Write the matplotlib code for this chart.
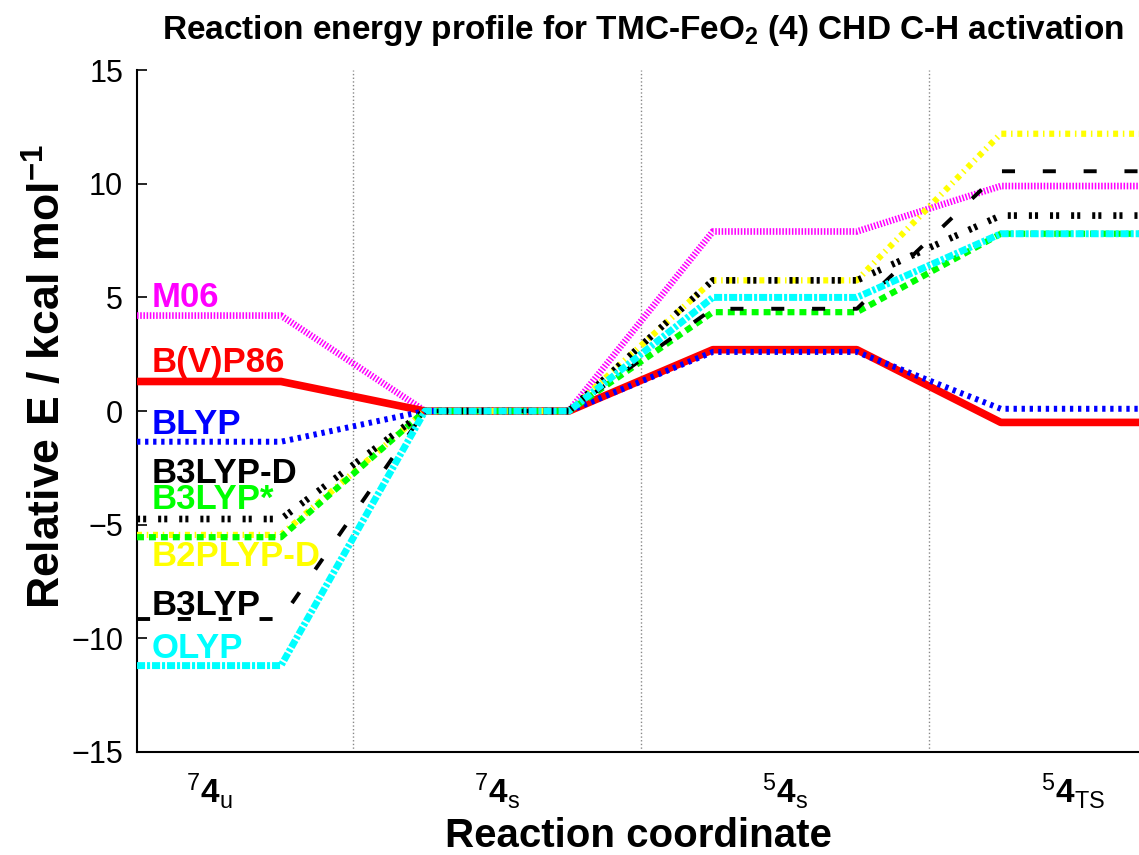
import matplotlib
matplotlib.use("Agg")
import matplotlib.pyplot as plt
import matplotlib.transforms as mtransforms
import numpy as np

plt.rcParams['font.family'] = ['Liberation Sans', 'DejaVu Sans']
plt.rcParams['mathtext.fontset'] = 'custom'
plt.rcParams['mathtext.rm'] = 'Liberation Sans'
plt.rcParams['mathtext.bf'] = 'Liberation Sans:bold'
plt.rcParams['mathtext.it'] = 'Liberation Sans:italic'
plt.rcParams['lines.scale_dashes'] = False

# states along the reaction coordinate
states = [r"$^{7}\mathbf{4}_{\mathrm{u}}$", r"$^{7}\mathbf{4}_{\mathrm{s}}$",
          r"$^{5}\mathbf{4}_{\mathrm{s}}$", r"$^{5}\mathbf{4}_{\mathrm{TS}}$"]

# relative energies (kcal/mol), one value per state
functionals = ["M06", "B(V)P86", "BLYP", "B2PLYP-D", "B3LYP*", "B3LYP-D", "B3LYP", "OLYP"]
e_m06     = [4.2, 0.0, 7.9, 9.9]
e_bvp86   = [1.3, 0.0, 2.7, -0.5]
e_blyp    = [-1.35, 0.0, 2.6, 0.1]
e_b2plypd = [-5.45, 0.0, 5.75, 12.2]
e_b3lyps  = [-5.55, 0.0, 4.35, 7.8]
e_b3lypd  = [-4.75, 0.0, 5.75, 8.6]
e_b3lyp   = [-9.15, 0.0, 4.5, 10.55]
e_olyp    = [-11.2, 0.0, 5.0, 7.8]
energies = [e_m06, e_bvp86, e_blyp, e_b2plypd, e_b3lyps, e_b3lypd, e_b3lyp, e_olyp]

# label heights on the left side
label_y = [5.0, 2.15, -0.6, -6.4, -3.9, -2.75, -8.55, -10.45]

styles = {
    "M06":      dict(color="#ff00ff", lw=4.8, dashes=(1.1, 1.2)),
    "B(V)P86":  dict(color="#ff0000", lw=5.5, ls="-"),
    "BLYP":     dict(color="#0000ff", lw=4.3, dashes=(2.4, 3.4)),
    "B2PLYP-D": dict(color="#ffff00", lw=4.5, dashes=(3.6, 3.4, 1.1, 3.4)),
    "B3LYP*":   dict(color="#00ff00", lw=4.5, dashes=(5.0, 3.6)),
    "B3LYP-D":  dict(color="#000000", lw=4.8, dashes=(2.2, 2.2, 2.2, 8.6)),
    "B3LYP":    dict(color="#000000", lw=2.8, dashes=(9.4, 20.0)),
    "OLYP":     dict(color="#00ffff", lw=5.0, dashes=(5.8, 1.4, 2.2, 1.4)),
}

half = 0.25  # half width of each plateau
idx = np.arange(len(states))

fig = plt.figure(figsize=(11.39, 8.55), dpi=100)
ax = fig.add_axes([0.1203, 0.1205, 0.8797, 0.7975])

for x in idx[:-1] + 0.5:
    ax.axvline(x, color="#888888", ls=":", lw=1.0, zorder=1)

xs = np.column_stack([idx - half, idx + half]).ravel()
for name, e in zip(functionals, energies):
    ys = np.repeat(e, 2)
    st = styles[name]
    ax.plot(xs, ys, solid_capstyle="butt", dash_capstyle="butt", zorder=3, **st)

trans = mtransforms.blended_transform_factory(ax.transAxes, ax.transData)
for name, yl in zip(functionals, label_y):
    ax.text(0.015, yl, name, transform=trans, ha="left", va="center",
            fontsize=25, fontweight="bold", color=styles[name]["color"], zorder=4)

ax.set_xlim(-0.25, 3.23)
ax.set_ylim(-15, 15)
ax.set_yticks(np.arange(-15, 16, 5))
ax.set_xticks(idx)
ax.set_xticklabels(states, fontsize=24)
ax.tick_params(axis="x", length=0, pad=14)
ax.tick_params(axis="y", direction="in", length=7, width=1.2, labelsize=22, pad=10)

for s in ["top", "right"]:
    ax.spines[s].set_visible(False)
for s in ["left", "bottom"]:
    ax.spines[s].set_linewidth(1.5)

ax.set_xlabel("Reaction coordinate", fontsize=29, fontweight="bold", labelpad=4)
ax.set_ylabel(r"Relative E / kcal mol$^{\mathbf{-1}}$", fontsize=32, fontweight="bold", labelpad=6)
ax.yaxis.set_label_coords(-0.067, 0.55)
fig.text(0.564, 0.964, r"Reaction energy profile for TMC-FeO$_{\mathbf{2}}$ (4) CHD C-H activation",
         ha="center", va="center", fontsize=24, fontweight="bold")

fig.savefig("out.png", dpi=100)
